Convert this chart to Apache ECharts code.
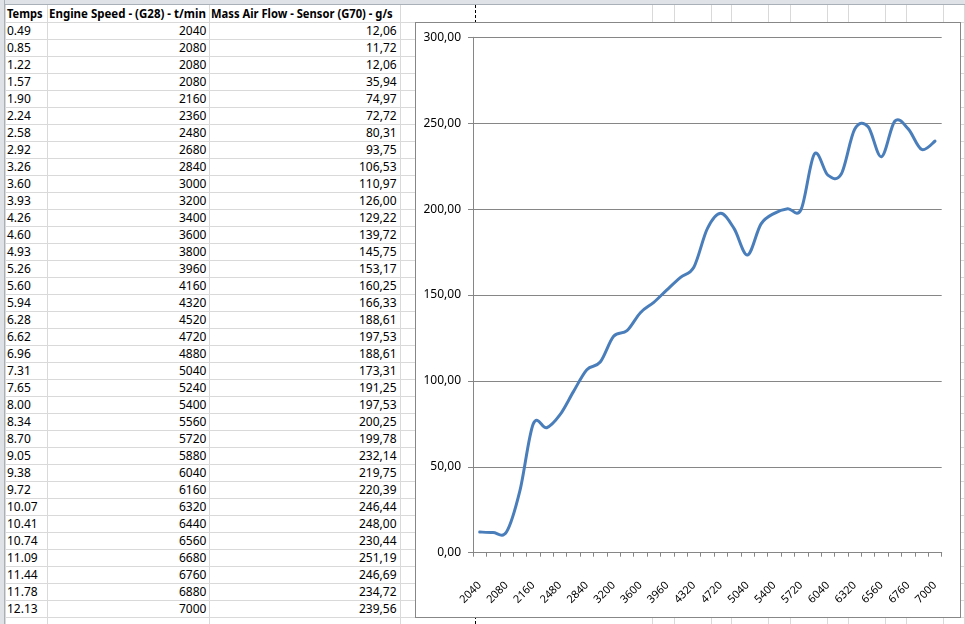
<!DOCTYPE html>
<html><head><meta charset="utf-8">
<script src="https://cdn.jsdelivr.net/npm/echarts@6/dist/echarts.min.js"></script>
<style>
html,body{margin:0;padding:0;width:965px;height:624px;overflow:hidden;background:#fff;font-family:"Noto Sans",sans-serif;}
#sheet{position:absolute;left:0;top:0;width:965px;height:624px;overflow:hidden;}
.vl{position:absolute;top:5px;width:1px;height:619px;background:#d9d9d9;}
.hl{position:absolute;left:0;height:1px;width:965px;background:#d9d9d9;}
.cell{position:absolute;height:17px;line-height:17px;font-size:12px;color:#000;white-space:nowrap;}
.b{font-weight:bold;}
#colhead{position:absolute;left:0;top:0;width:965px;height:4px;background:#dfe3e8;border-bottom:1px solid #a9b0b8;}
#rowhead{position:absolute;left:0;top:0;width:4px;height:624px;background:#dfe3e8;border-right:1px solid #a9b0b8;}
#pb{position:absolute;left:475px;top:5px;width:0;height:619px;border-left:1px dashed #000;}
#box{position:absolute;left:415px;top:22px;width:546px;height:596px;box-sizing:border-box;border:1px solid #878787;background:#fff;}
#chart{position:absolute;left:0;top:0;width:544px;height:594px;}
</style>
</head><body>
<div id="sheet"></div>
<div id="box"><div id="chart"></div></div>
<script>
const headers = ['Temps', 'Engine Speed - (G28) - t/min', 'Mass Air Flow - Sensor (G70) - g/s'];
const temps = ['0.49','0.85','1.22','1.57','1.90','2.24','2.58','2.92','3.26','3.60','3.93','4.26','4.60','4.93','5.26','5.60','5.94','6.28','6.62','6.96','7.31','7.65','8.00','8.34','8.70','9.05','9.38','9.72','10.07','10.41','10.74','11.09','11.44','11.78','12.13'];
const engineSpeed = [2040,2080,2080,2080,2160,2360,2480,2680,2840,3000,3200,3400,3600,3800,3960,4160,4320,4520,4720,4880,5040,5240,5400,5560,5720,5880,6040,6160,6320,6440,6560,6680,6760,6880,7000];
const massAirFlow = [12.06,11.72,12.06,35.94,74.97,72.72,80.31,93.75,106.53,110.97,126.00,129.22,139.72,145.75,153.17,160.25,166.33,188.61,197.53,188.61,173.31,191.25,197.53,200.25,199.78,232.14,219.75,220.39,246.44,248.00,230.44,251.19,246.69,234.72,239.56];
const yMin = 0, yMax = 300, yStep = 50;

const fmt = v => v.toFixed(2).replace('.', ',');

// ---- spreadsheet background ----
const sheet = document.getElementById('sheet');
const colLines = [5,47,209,400,652,674,711,731,768,790,827,848,885,906,943,964];
colLines.forEach(x => { const d = document.createElement('div'); d.className = 'vl'; d.style.left = x + 'px'; sheet.appendChild(d); });
for (let y = 22; y < 624; y += 17) { const d = document.createElement('div'); d.className = 'hl'; d.style.top = y + 'px'; sheet.appendChild(d); }
const pb = document.createElement('div'); pb.id = 'pb'; sheet.appendChild(pb);
const ch = document.createElement('div'); ch.id = 'colhead'; sheet.appendChild(ch);
const rh = document.createElement('div'); rh.id = 'rowhead'; sheet.appendChild(rh);

function addCell(text, x, y, align, w, bold) {
  const d = document.createElement('div');
  d.className = 'cell' + (bold ? ' b' : '');
  d.textContent = text;
  d.style.top = y + 'px';
  sheet.appendChild(d);
  if (align === 'left') d.style.left = x + 'px';
  else d.style.left = (x - d.offsetWidth) + 'px';
  if (w) {
    const s = w / d.offsetWidth;
    d.style.transformOrigin = align === 'left' ? 'left center' : 'right center';
    d.style.transform = 'scaleX(' + s + ')';
  }
  return d;
}
addCell(headers[0], 7, 5, 'left', 36, true);
addCell(headers[1], 49, 5, 'left', 157, true);
addCell(headers[2], 211, 5, 'left', 182, true);
for (let i = 0; i < temps.length; i++) {
  const y = 22 + 17 * i;
  addCell(temps[i], 7, y, 'left');
  addCell(String(engineSpeed[i]), 206, y, 'right');
  addCell(fmt(massAirFlow[i]), 397, y, 'right');
}

// ---- chart ----
// Excel-like smoothed line (Catmull-Rom Bezier) built through the axis scales via api.coord
function renderSmooth(params, api) {
  if (params.dataIndex !== 0) return null;
  const pts = massAirFlow.map((v, i) => api.coord([i, v]));
  const n = pts.length;
  let d = 'M' + pts[0][0] + ' ' + pts[0][1];
  for (let i = 0; i < n - 1; i++) {
    const p0 = pts[Math.max(i - 1, 0)], p1 = pts[i], p2 = pts[i + 1], p3 = pts[Math.min(i + 2, n - 1)];
    const c1x = p1[0] + (p2[0] - p0[0]) / 6, c1y = p1[1] + (p2[1] - p0[1]) / 6;
    const c2x = p2[0] - (p3[0] - p1[0]) / 6, c2y = p2[1] - (p3[1] - p1[1]) / 6;
    d += ' C' + c1x + ' ' + c1y + ' ' + c2x + ' ' + c2y + ' ' + p2[0] + ' ' + p2[1];
  }
  return {
    type: 'path',
    shape: { pathData: d },
    style: { stroke: '#4A7EBB', lineWidth: 3, fill: 'none', lineJoin: 'round', lineCap: 'round' }
  };
}

const chart = echarts.init(document.getElementById('chart'), null, { renderer: 'canvas' });
chart.setOption({
  animation: false,
  grid: { left: 57, top: 14.3, width: 468.7, height: 515.4, containLabel: false },
  xAxis: {
    type: 'category',
    data: engineSpeed.map(String),
    boundaryGap: true,
    axisLine: { lineStyle: { color: '#868686', width: 1 } },
    axisTick: { show: true, interval: 0, length: 4, inside: false, lineStyle: { color: '#868686' } },
    axisLabel: { interval: 1, rotate: 45, margin: 31, fontSize: 11, color: '#000', fontFamily: 'Noto Sans' },
    splitLine: { show: false }
  },
  yAxis: {
    type: 'value', min: yMin, max: yMax, interval: yStep,
    axisLine: { show: true, lineStyle: { color: '#868686', width: 1 } },
    axisTick: { show: true, length: 5, lineStyle: { color: '#868686' } },
    axisLabel: { margin: 12, fontSize: 12, color: '#000', fontFamily: 'Noto Sans', formatter: v => fmt(v) },
    splitLine: { show: true, lineStyle: { color: '#868686', width: 1 } }
  },
  series: [{
    name: 'Mass Air Flow - Sensor (G70) - g/s',
    type: 'custom',
    coordinateSystem: 'cartesian2d',
    data: massAirFlow.map((v, i) => [i, v]),
    encode: { x: 0, y: 1 },
    renderItem: renderSmooth
  }]
});
</script>
</body></html>
